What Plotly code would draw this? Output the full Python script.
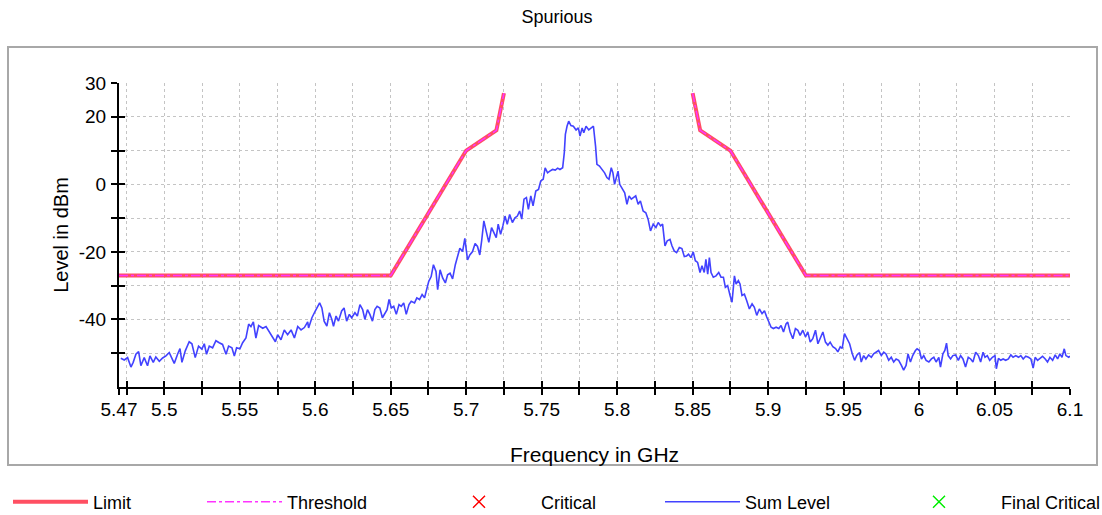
import plotly.graph_objects as go

# ---------------- data ----------------
limit_freq = [5.47, 5.65, 5.70, 5.72, 5.725, None, 5.85, 5.855, 5.875, 5.925, 6.10]
limit_level = [-27, -27, 10, 16, 27, None, 27, 16, 10, -27, -27]

threshold_freq = [5.47, 5.65, 5.70, 5.72, 5.725, None, 5.85, 5.855, 5.875, 5.925, 6.10]
threshold_level = [-27, -27, 10, 16, 27, None, 27, 16, 10, -27, -27]

# no critical points were found (legend entries only)
critical_freq = [None]
critical_level = [None]
final_critical_freq = [None]
final_critical_level = [None]

sum_freq = [
    5.4712, 5.4735, 5.4757, 5.4779, 5.4794, 5.4812, 5.4830, 5.4845, 5.4867, 5.4889,
    5.4905, 5.4927, 5.4944, 5.4967, 5.4989, 5.5011, 5.5033, 5.5051, 5.5066, 5.5088,
    5.5104, 5.5117, 5.5139, 5.5165, 5.5183, 5.5205, 5.5227, 5.5249, 5.5265, 5.5280,
    5.5298, 5.5320, 5.5342, 5.5364, 5.5386, 5.5409, 5.5426, 5.5448, 5.5464, 5.5479,
    5.5501, 5.5519, 5.5541, 5.5559, 5.5574, 5.5590, 5.5607, 5.5625, 5.5652, 5.5674,
    5.5696, 5.5718, 5.5736, 5.5751, 5.5773, 5.5795, 5.5817, 5.5840, 5.5862, 5.5884,
    5.5906, 5.5928, 5.5950,
    5.5956, 5.5978, 5.6000, 5.6029, 5.6044, 5.6059, 5.6077, 5.6094, 5.6110, 5.6121,
    5.6138, 5.6154, 5.6175, 5.6191, 5.6208, 5.6226, 5.6241, 5.6263, 5.6279, 5.6296,
    5.6314, 5.6329, 5.6346, 5.6362, 5.6379, 5.6395, 5.6410, 5.6428, 5.6445, 5.6461,
    5.6476, 5.6489, 5.6504, 5.6520, 5.6537, 5.6555, 5.6570, 5.6586, 5.6603, 5.6621,
    5.6636, 5.6658, 5.6673, 5.6691, 5.6708, 5.6724, 5.6739, 5.6752, 5.6768, 5.6783,
    5.6800, 5.6811, 5.6827, 5.6844, 5.6862, 5.6877, 5.6893, 5.6910, 5.6928, 5.6943,
    5.6958, 5.6976, 5.6991, 5.7009, 5.7024, 5.7042, 5.7059, 5.7075, 5.7090, 5.7103,
    5.7117, 5.7132, 5.7150, 5.7168, 5.7183, 5.7199, 5.7212, 5.7228, 5.7243, 5.7257,
    5.7272, 5.7288, 5.7306, 5.7323, 5.7339, 5.7354, 5.7368, 5.7383, 5.7399, 5.7412,
    5.7428, 5.7443, 5.7461, 5.7479, 5.7494, 5.7510, 5.7523, 5.7539, 5.7554, 5.7572,
    5.7590, 5.7606, 5.7621, 5.7639, 5.7650, 5.7657, 5.7668, 5.7679, 5.7694, 5.7710,
    5.7728, 5.7743, 5.7754, 5.7768, 5.7779, 5.7794, 5.7812, 5.7828, 5.7843, 5.7857,
    5.7866, 5.7883, 5.7901, 5.7917, 5.7932, 5.7946, 5.7961, 5.7972, 5.7983, 5.7994,
    5.8006, 5.8017, 5.8034, 5.8050, 5.8065, 5.8079, 5.8094, 5.8110, 5.8123, 5.8139,
    5.8154, 5.8172, 5.8190, 5.8205, 5.8221, 5.8239, 5.8257, 5.8272, 5.8288, 5.8301,
    5.8317, 5.8332, 5.8350,
    5.8363, 5.8378, 5.8394, 5.8412, 5.8429, 5.8445, 5.8460, 5.8473, 5.8489, 5.8504,
    5.8518, 5.8533, 5.8549, 5.8562, 5.8577, 5.8588, 5.8600, 5.8611, 5.8622, 5.8637,
    5.8655, 5.8673, 5.8688, 5.8704, 5.8717, 5.8732, 5.8748, 5.8761, 5.8777, 5.8788,
    5.8803, 5.8814, 5.8827, 5.8843, 5.8858, 5.8876, 5.8894, 5.8909, 5.8925, 5.8942,
    5.8960, 5.8976, 5.8991, 5.9004, 5.9020, 5.9035, 5.9053, 5.9071, 5.9086, 5.9102,
    5.9119, 5.9130, 5.9146, 5.9164, 5.9181, 5.9197, 5.9212, 5.9230, 5.9248, 5.9263,
    5.9279, 5.9296, 5.9314, 5.9330, 5.9345, 5.9363, 5.9380, 5.9396, 5.9411, 5.9429,
    5.9447, 5.9462, 5.9478, 5.9491, 5.9506, 5.9522, 5.9540, 5.9557, 5.9573, 5.9588,
    5.9606,
    5.9617, 5.9633, 5.9648, 5.9666, 5.9684, 5.9699, 5.9715, 5.9732, 5.9750, 5.9766,
    5.9781, 5.9799, 5.9816, 5.9832, 5.9848, 5.9865, 5.9883, 5.9898, 5.9914, 5.9927,
    5.9943, 5.9958, 5.9976, 5.9987, 6.0003, 6.0016, 6.0031, 6.0047, 6.0065, 6.0082,
    6.0098, 6.0113, 6.0131, 6.0142, 6.0158, 6.0171, 6.0182, 6.0193, 6.0209, 6.0224,
    6.0242, 6.0260, 6.0275, 6.0291, 6.0308, 6.0326, 6.0342, 6.0357, 6.0375, 6.0393,
    6.0408, 6.0424, 6.0437, 6.0452, 6.0468, 6.0486, 6.0503, 6.0512, 6.0526, 6.0541,
    6.0557, 6.0574, 6.0592, 6.0608, 6.0623, 6.0641, 6.0659, 6.0674, 6.0690, 6.0707,
    6.0725, 6.0741, 6.0756, 6.0769, 6.0785, 6.0800, 6.0818, 6.0836, 6.0851, 6.0867,
    6.0885, 6.0902, 6.0918, 6.0933, 6.0947, 6.0962, 6.0973, 6.0991, 6.1000,
]

sum_level = [
    -51.5, -52.0, -51.3, -54.1, -52.7, -50.3, -49.5, -53.7, -51.3, -53.7,
    -50.8, -52.7, -51.1, -52.4, -51.4, -50.8, -49.8, -51.3, -53.0, -50.3,
    -48.6, -52.7, -49.3, -46.6, -47.2, -51.3, -47.9, -48.8, -47.2, -50.3,
    -47.9, -48.4, -46.3, -46.9, -47.4, -50.3, -47.9, -48.4, -50.8, -48.4,
    -48.7, -46.9, -45.5, -41.4, -42.1, -40.7, -45.5, -41.8, -42.6, -42.1,
    -43.6, -45.5, -46.6, -44.5, -46.0, -43.1, -44.5, -43.1, -45.5, -42.1,
    -43.1, -42.4, -40.7,
    -42.5, -39.5, -37.5, -35.1, -36.6, -40.5, -42.0, -38.0, -40.0, -42.0,
    -39.0, -40.5, -37.5, -36.6, -40.5, -38.5, -39.5, -38.0, -39.0, -35.6,
    -37.1, -40.0, -37.1, -38.5, -40.5, -37.1, -36.1, -36.6, -39.5, -38.0,
    -37.1, -34.1, -36.6, -36.1, -38.5, -35.6, -36.1, -35.1, -38.5, -35.6,
    -34.6, -35.1, -33.6, -34.1, -32.6, -33.6, -31.2, -28.7, -27.3, -23.8,
    -25.8, -31.2, -25.3, -27.7, -29.2, -26.8, -26.3, -28.0, -23.8, -21.4,
    -18.9, -19.9, -16.0, -22.4, -20.9, -19.9, -17.5, -18.4, -20.9, -16.5,
    -10.8, -13.8, -17.2, -12.8, -14.3, -15.8, -11.8, -14.8, -12.3, -9.4,
    -11.8, -8.9, -11.3, -9.9, -9.4, -7.9, -10.3, -4.4, -3.9, -7.4,
    -3.4, -6.4, -2.0, -1.5, 1.0, 1.5, 4.9, 3.4, 3.9, 4.4,
    4.2, 4.8, 4.4, 4.9, 9.4, 14.8, 17.2, 18.7, 17.4, 17.2,
    16.1, 16.7, 14.3, 16.7, 15.3, 17.2, 16.1, 16.7, 17.2, 11.3,
    5.9, 5.4, 4.4, 3.4, 2.0, 1.5, 4.9, 3.4, 0.0, 2.0,
    3.9, 0.0, -1.5, -2.5, -5.9, -3.4, -4.4, -3.9, -3.4, -5.9,
    -4.9, -7.9, -8.4, -10.3, -13.8, -11.8, -12.8, -11.3, -12.3, -11.8,
    -18.2, -16.7, -16.3,
    -18.2, -19.7, -20.2, -18.7, -19.0, -21.4, -21.2, -20.7, -21.7, -20.0,
    -22.6, -23.1, -26.1, -24.1, -26.1, -22.2, -26.6, -21.7, -26.1, -27.5,
    -27.1, -26.1, -27.5, -27.5, -30.5, -30.0, -32.9, -34.9, -27.1, -29.5,
    -28.5, -29.5, -32.9, -32.5, -34.4, -36.9, -35.4, -36.4, -38.8, -36.9,
    -38.3, -37.4, -39.3, -40.8, -42.3, -42.7, -42.3, -42.7, -41.8, -43.7,
    -41.3, -40.8, -43.7, -45.7, -42.7, -43.2, -44.7, -43.2, -45.2, -43.7,
    -46.7, -45.7, -43.2, -47.2, -45.7, -43.7, -46.7, -47.6, -46.7, -48.1,
    -48.6, -49.6, -48.1, -48.6, -44.2, -45.7, -47.2, -50.1, -52.1, -50.6,
    -49.8,
    -52.6, -50.7, -51.7, -50.5, -51.2, -50.2, -49.7, -49.2, -50.7, -49.7,
    -50.2, -52.1, -51.2, -52.6, -51.7, -52.1, -53.6, -55.0, -53.6, -50.2,
    -52.6, -50.7, -49.2, -48.7, -49.2, -51.7, -50.7, -52.1, -52.6, -51.7,
    -51.2, -52.6, -51.2, -54.1, -50.2, -49.2, -47.0, -50.7, -51.7, -50.7,
    -50.5, -52.1, -50.7, -51.7, -54.1, -51.2, -51.7, -52.6, -49.7, -50.7,
    -52.6, -49.7, -51.2, -50.7, -52.1, -51.2, -50.7, -54.6, -51.5, -52.1,
    -51.7, -52.1, -51.7, -50.5, -51.2, -50.7, -51.2, -50.7, -51.7, -50.9,
    -51.2, -51.7, -54.4, -51.2, -52.1, -51.5, -50.9, -51.7, -52.6, -51.2,
    -52.1, -50.5, -51.7, -50.2, -51.2, -48.7, -50.7, -51.2, -50.9,
]

x_tick_vals = [5.47, 5.475, 5.5, 5.525, 5.55, 5.575, 5.6, 5.625, 5.65, 5.675, 5.7,
               5.725, 5.75, 5.775, 5.8, 5.825, 5.85, 5.875, 5.9, 5.925, 5.95,
               5.975, 6.0, 6.025, 6.05, 6.075, 6.1]
x_tick_text = ["5.47", "", "5.5", "", "5.55", "", "5.6", "", "5.65", "", "5.7",
               "", "5.75", "", "5.8", "", "5.85", "", "5.9", "", "5.95",
               "", "6", "", "6.05", "", "6.1"]
y_tick_vals = [30, 20, 10, 0, -10, -20, -30, -40, -50]
y_tick_text = ["30", "20", "", "0", "", "-20", "", "-40", ""]

# ---------------- geometry ----------------
W, H = 1102, 515
L_PX, R_PX, T_PX, B_PX = 119, 1070, 83, 387
FONT = "Liberation Sans, Arial, sans-serif"


def px_x(px):
    return (px - L_PX) / (R_PX - L_PX)


def px_y(py):
    return (B_PX - py) / (B_PX - T_PX)


fig = go.Figure()

fig.add_trace(go.Scatter(x=limit_freq, y=limit_level, mode="lines", name="Limit",
                         line=dict(color="#ff4f62", width=4), legend="legend",
                         connectgaps=False, showlegend=True))
fig.add_trace(go.Scatter(x=threshold_freq, y=threshold_level, mode="lines", name="Threshold",
                         line=dict(color="#ff33ff", width=1.5, dash="dashdot"), legend="legend2",
                         connectgaps=False, showlegend=True))
fig.add_trace(go.Scatter(x=critical_freq, y=critical_level, mode="markers", name="Critical",
                         marker=dict(symbol="x-thin", size=12, line=dict(color="#ff0000", width=1.5),
                                     color="#ff0000"),
                         legend="legend3", showlegend=True))
fig.add_trace(go.Scatter(x=sum_freq, y=sum_level, mode="lines", name="Sum Level",
                         line=dict(color="#4242ff", width=1.6), legend="legend4",
                         showlegend=True))
fig.add_trace(go.Scatter(x=final_critical_freq, y=final_critical_level, mode="markers",
                         name="Final Critical",
                         marker=dict(symbol="x-thin", size=12, line=dict(color="#00ee00", width=1.5),
                                     color="#00ee00"),
                         legend="legend5", showlegend=True))

# empty helper trace so the overlay axes (inside tick halves) are drawn
fig.add_trace(go.Scatter(x=[], y=[], xaxis="x2", yaxis="y2", showlegend=False,
                         hoverinfo="skip"))

axis_font = dict(family=FONT, size=19, color="#000000")

fig.update_layout(
    width=W, height=H,
    showlegend=True,
    margin=dict(l=L_PX, r=W - R_PX, t=T_PX, b=H - B_PX, autoexpand=False),
    paper_bgcolor="white", plot_bgcolor="white",
    font=dict(family=FONT, color="#000000"),
    title=dict(text="Spurious", x=557 / W, xanchor="center", xref="container",
               y=1 - 17 / H, yanchor="middle", yref="container",
               font=dict(family=FONT, size=18, color="#000000")),
    xaxis=dict(range=[5.47, 6.1], tickvals=x_tick_vals, ticktext=x_tick_text,
               ticks="outside", ticklen=6, tickwidth=1.5, tickcolor="#000000",
               showline=True, linecolor="#000000", linewidth=2,
               showgrid=True, gridcolor="#c4c4c4", griddash="dot", gridwidth=1,
               zeroline=False, tickfont=axis_font, ticklabelstandoff=-2,
               title=dict(text="Frequency in GHz", font=dict(family=FONT, size=21),
                          standoff=29)),
    yaxis=dict(range=[-60, 30], tickvals=y_tick_vals, ticktext=y_tick_text,
               ticks="outside", ticklen=6, tickwidth=1.5, tickcolor="#000000",
               showline=True, linecolor="#000000", linewidth=2,
               showgrid=True, gridcolor="#c4c4c4", griddash="dot", gridwidth=1,
               zeroline=False, tickfont=axis_font, ticklabelstandoff=1,
               title=dict(text="Level in dBm", font=dict(family=FONT, size=20),
                          standoff=5)),
    xaxis2=dict(range=[5.47, 6.1], overlaying="x", anchor="y", side="bottom",
                tickvals=x_tick_vals, ticks="inside", ticklen=6, tickwidth=1.5,
                tickcolor="#000000", showticklabels=False, showgrid=False,
                zeroline=False, showline=False),
    yaxis2=dict(range=[-60, 30], overlaying="y", anchor="x", side="left",
                tickvals=y_tick_vals, ticks="inside", ticklen=6, tickwidth=1.5,
                tickcolor="#000000", showticklabels=False, showgrid=False,
                zeroline=False, showline=False),
    shapes=[dict(type="rect", xref="paper", yref="paper",
                 x0=px_x(8), x1=px_x(1097), y0=px_y(465), y1=px_y(47),
                 line=dict(color="#a8a8a8", width=2), fillcolor="rgba(0,0,0,0)",
                 layer="below")],
)

legend_y = px_y(502)
legend_common = dict(orientation="h", yanchor="middle", y=legend_y, xanchor="left",
                     bgcolor="rgba(0,0,0,0)", borderwidth=0,
                     font=dict(family=FONT, size=18, color="#000000"))
legend_setup = {
    "legend": (8, 75),
    "legend2": (202, 75),
    "legend3": (417, 114),
    "legend4": (660, 75),
    "legend5": (877, 114),
}
for key, (start, iw) in legend_setup.items():
    fig.update_layout({key: dict(legend_common, x=px_x(start), itemwidth=iw, visible=True)})

fig.write_html("out.html", config={"displayModeBar": False},
               post_script="document.body.style.margin='0px';")
